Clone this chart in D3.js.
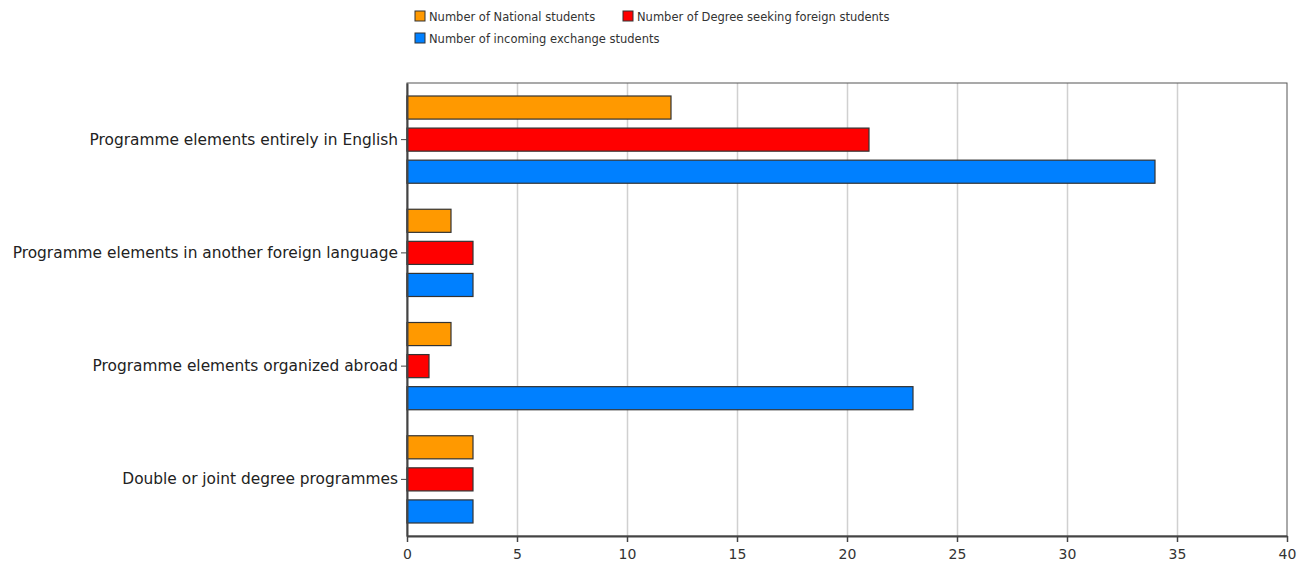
<!DOCTYPE html>
<html>
<head>
<meta charset="utf-8">
<script src="https://cdn.jsdelivr.net/npm/d3@7"></script>
<style>
  body { margin: 0; background: #fff; }
  text { font-family: "DejaVu Sans", Verdana, sans-serif; }
</style>
</head>
<body>
<script>
// sizes
const w = 1299;
const h = 564;
const padLeft = 407, padRight = 1287, padTop = 83, padBottom = 536;

// data
const categories = [
  "Programme elements entirely in English",
  "Programme elements in another foreign language",
  "Programme elements organized abroad",
  "Double or joint degree programmes"
];
const seriesNames = [
  "Number of National students",
  "Number of Degree seeking foreign students",
  "Number of incoming exchange students"
];
const nationalVals = [12, 2, 2, 3];
const degreeVals = [21, 3, 1, 3];
const exchangeVals = [34, 3, 23, 3];
const xTicks = [0, 5, 10, 15, 20, 25, 30, 35, 40];
const colors = ["#ff9900", "#ff0000", "#0080ff"];

const svg = d3.select("body")
  .append("svg")
  .attr("width", w)
  .attr("height", h);

const xScale = d3.scaleLinear().domain([0, 40]).range([padLeft, padRight]);
const yScale = d3.scaleBand().domain(categories).range([padTop, padBottom]).paddingInner(0).paddingOuter(0);
const inner = d3.scaleBand().domain(seriesNames).range([13, yScale.bandwidth() - 13]).paddingInner(0.28);

// grid
svg.append("g")
  .selectAll("line")
  .data(xTicks.slice(1, -1))
  .enter()
  .append("line")
  .attr("x1", d => xScale(d) + 0.5)
  .attr("x2", d => xScale(d) + 0.5)
  .attr("y1", padTop)
  .attr("y2", padBottom)
  .attr("stroke", "#d0d0d0")
  .attr("stroke-width", 1.5);

// plot frame
svg.append("rect")
  .attr("x", padLeft)
  .attr("y", padTop)
  .attr("width", padRight - padLeft)
  .attr("height", padBottom - padTop)
  .attr("fill", "none")
  .attr("stroke", "#555")
  .attr("stroke-width", 1);

// bars
const series = [nationalVals, degreeVals, exchangeVals];
series.forEach(function(vals, i) {
  svg.append("g")
    .selectAll("rect")
    .data(vals)
    .enter()
    .append("rect")
    .attr("x", xScale(0))
    .attr("y", (d, j) => yScale(categories[j]) + inner(seriesNames[i]))
    .attr("width", d => xScale(d) - xScale(0))
    .attr("height", inner.bandwidth())
    .attr("fill", colors[i])
    .attr("stroke", "#333")
    .attr("stroke-width", 1.2);
});

// axes
const xAxis = d3.axisBottom(xScale).tickValues(xTicks).tickSize(6).tickSizeOuter(0).tickPadding(7);
const gx = svg.append("g")
  .attr("transform", "translate(0," + padBottom + ")")
  .call(xAxis);
gx.select(".domain").attr("stroke", "#444").attr("stroke-width", 2);
gx.selectAll(".tick line").attr("stroke", "#444").attr("stroke-width", 1.5);
gx.selectAll("text").attr("font-size", 14).attr("fill", "#333");

const yAxis = d3.axisLeft(yScale).tickSize(6).tickSizeOuter(0).tickPadding(3);
const gy = svg.append("g")
  .attr("transform", "translate(" + padLeft + ",0)")
  .call(yAxis);
gy.select(".domain").attr("stroke", "#444").attr("stroke-width", 2);
gy.selectAll(".tick line").attr("stroke", "#444");
gy.selectAll("text").attr("font-size", 15.4).attr("fill", "#222");

// legend
const legendPos = [[415, 16], [623, 16], [415, 38]];
const legend = svg.append("g");
seriesNames.forEach(function(name, i) {
  const g = legend.append("g").attr("transform", "translate(" + legendPos[i][0] + "," + legendPos[i][1] + ")");
  g.append("rect")
    .attr("x", 0).attr("y", -5)
    .attr("width", 10).attr("height", 10)
    .attr("fill", colors[i])
    .attr("stroke", "#333");
  g.append("text")
    .attr("x", 14)
    .attr("y", 5)
    .attr("font-size", 11.5)
    .attr("fill", "#333")
    .text(name);
});
</script>
</body>
</html>
